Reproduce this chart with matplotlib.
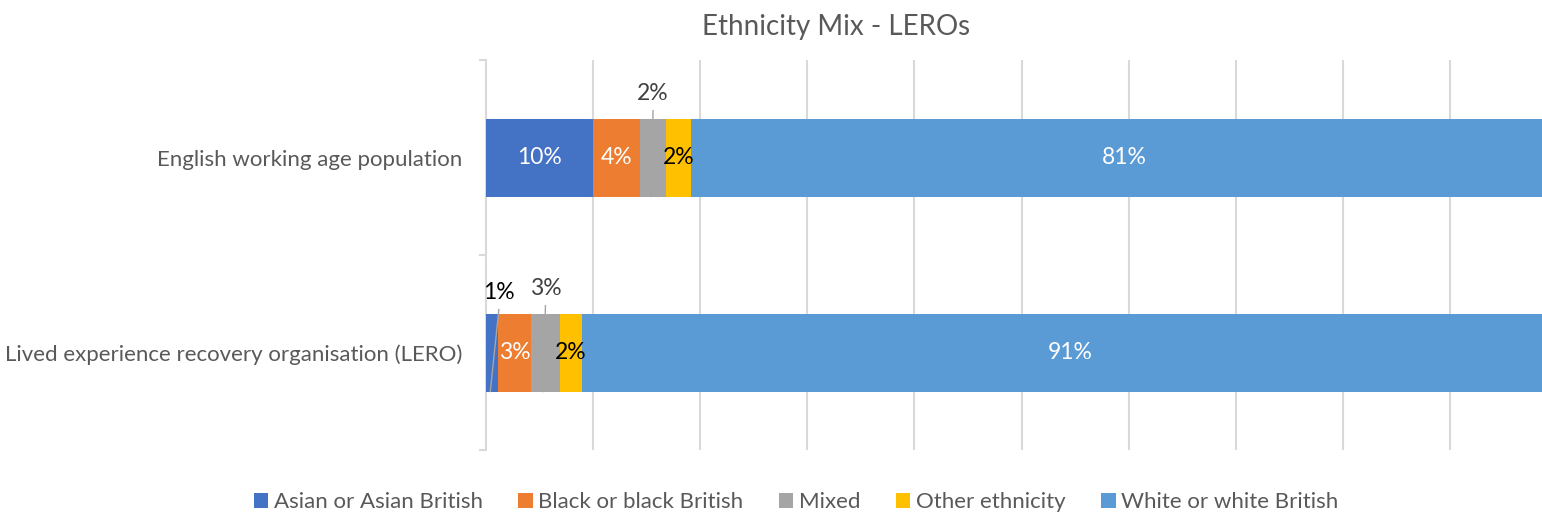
import matplotlib.pyplot as plt
import numpy as np

plt.rcParams['font.family'] = ['Lato', 'DejaVu Sans']

categories = ['English working age population',
              'Lived experience recovery organisation (LERO)']
groups = ['Asian or Asian British', 'Black or black British', 'Mixed',
          'Other ethnicity', 'White or white British']
colors = ['#4472c4', '#ed7d31', '#a5a5a5', '#ffc000', '#5b9bd5']

# shares (fraction) per group, for [English, LERO]
asian = [0.100, 0.011]
black = [0.044, 0.031]
mixed = [0.024, 0.027]
other = [0.023, 0.021]
white = [0.810, 0.910]
labels = [['10%', '1%'], ['4%', '3%'], ['2%', '3%'], ['2%', '2%'], ['81%', '91%']]
label_colors = ['white', 'white', '#404040', 'black', 'white']

series = [asian, black, mixed, other, white]

fig = plt.figure(figsize=(15.42, 5.15), dpi=100)
ax = fig.add_axes([486 / 1542, 1 - 450 / 515, 1071 / 1542, 390 / 515])

y = np.arange(len(categories))
left = np.zeros(len(categories))
for vals, col, name in zip(series, colors, groups):
    ax.barh(y, vals, left=left, height=0.4, color=col, label=name, zorder=3)
    left = left + np.array(vals)

ax.set_xlim(0, 1)
ax.set_ylim(1.5, -0.5)

# gridlines
ax.set_xticks(np.arange(0.1, 1.0, 0.1))
ax.tick_params(axis='x', length=0, labelbottom=False)
ax.grid(axis='x', color='#d9d9d9', linewidth=1.5, zorder=0)

# category axis
ax.set_yticks(y)
ax.set_yticklabels(categories, fontsize=16, color='#595959')
ax.tick_params(axis='y', length=0, pad=17)
ax.set_yticks([-0.5, 0.5, 1.5], minor=True)
ax.tick_params(axis='y', which='minor', length=5, color='#d9d9d9', width=1.5)
for s in ['top', 'right', 'bottom']:
    ax.spines[s].set_visible(False)
ax.spines['left'].set_color('#d9d9d9')
ax.spines['left'].set_linewidth(1.5)

# data labels
fs = 16.5
for k, vals in enumerate(series):
    starts = np.zeros(len(categories))
    for j in range(k):
        starts = starts + np.array(series[j])
    for i in range(len(categories)):
        cx = starts[i] + vals[i] / 2
        txt = labels[k][i]
        if k == 2:
            # mixed: label above bar with leader line
            ax.text(cx, i - 0.33, txt, ha='center', va='center', fontsize=fs, color='#404040')
            ax.plot([cx, cx - 0.002], [i - 0.24, i + 0.2], color='#a5a5a5', lw=1, zorder=4)
        elif k == 0 and i == 1:
            ax.text(0.012, i - 0.31, txt, ha='center', va='center', fontsize=fs, color='black')
            ax.plot([0.012, 0.004], [i - 0.22, i + 0.2], color='#a5a5a5', lw=1, zorder=4)
        else:
            ax.text(cx, i, txt, ha='center', va='center', fontsize=fs, color=label_colors[k], zorder=5)

fig.text(836 / 1542, 1 - 27 / 515, 'Ethnicity Mix - LEROs', ha='center', va='center',
         fontsize=20, color='#595959')

fig.legend(loc='center', bbox_to_anchor=(796 / 1542, 1 - 502 / 515), ncol=5, frameon=False,
           fontsize=16, labelcolor='#595959', handlelength=0.65, handleheight=0.65,
           handletextpad=0.25, columnspacing=1.6)

fig.savefig('out.png', dpi=100)
